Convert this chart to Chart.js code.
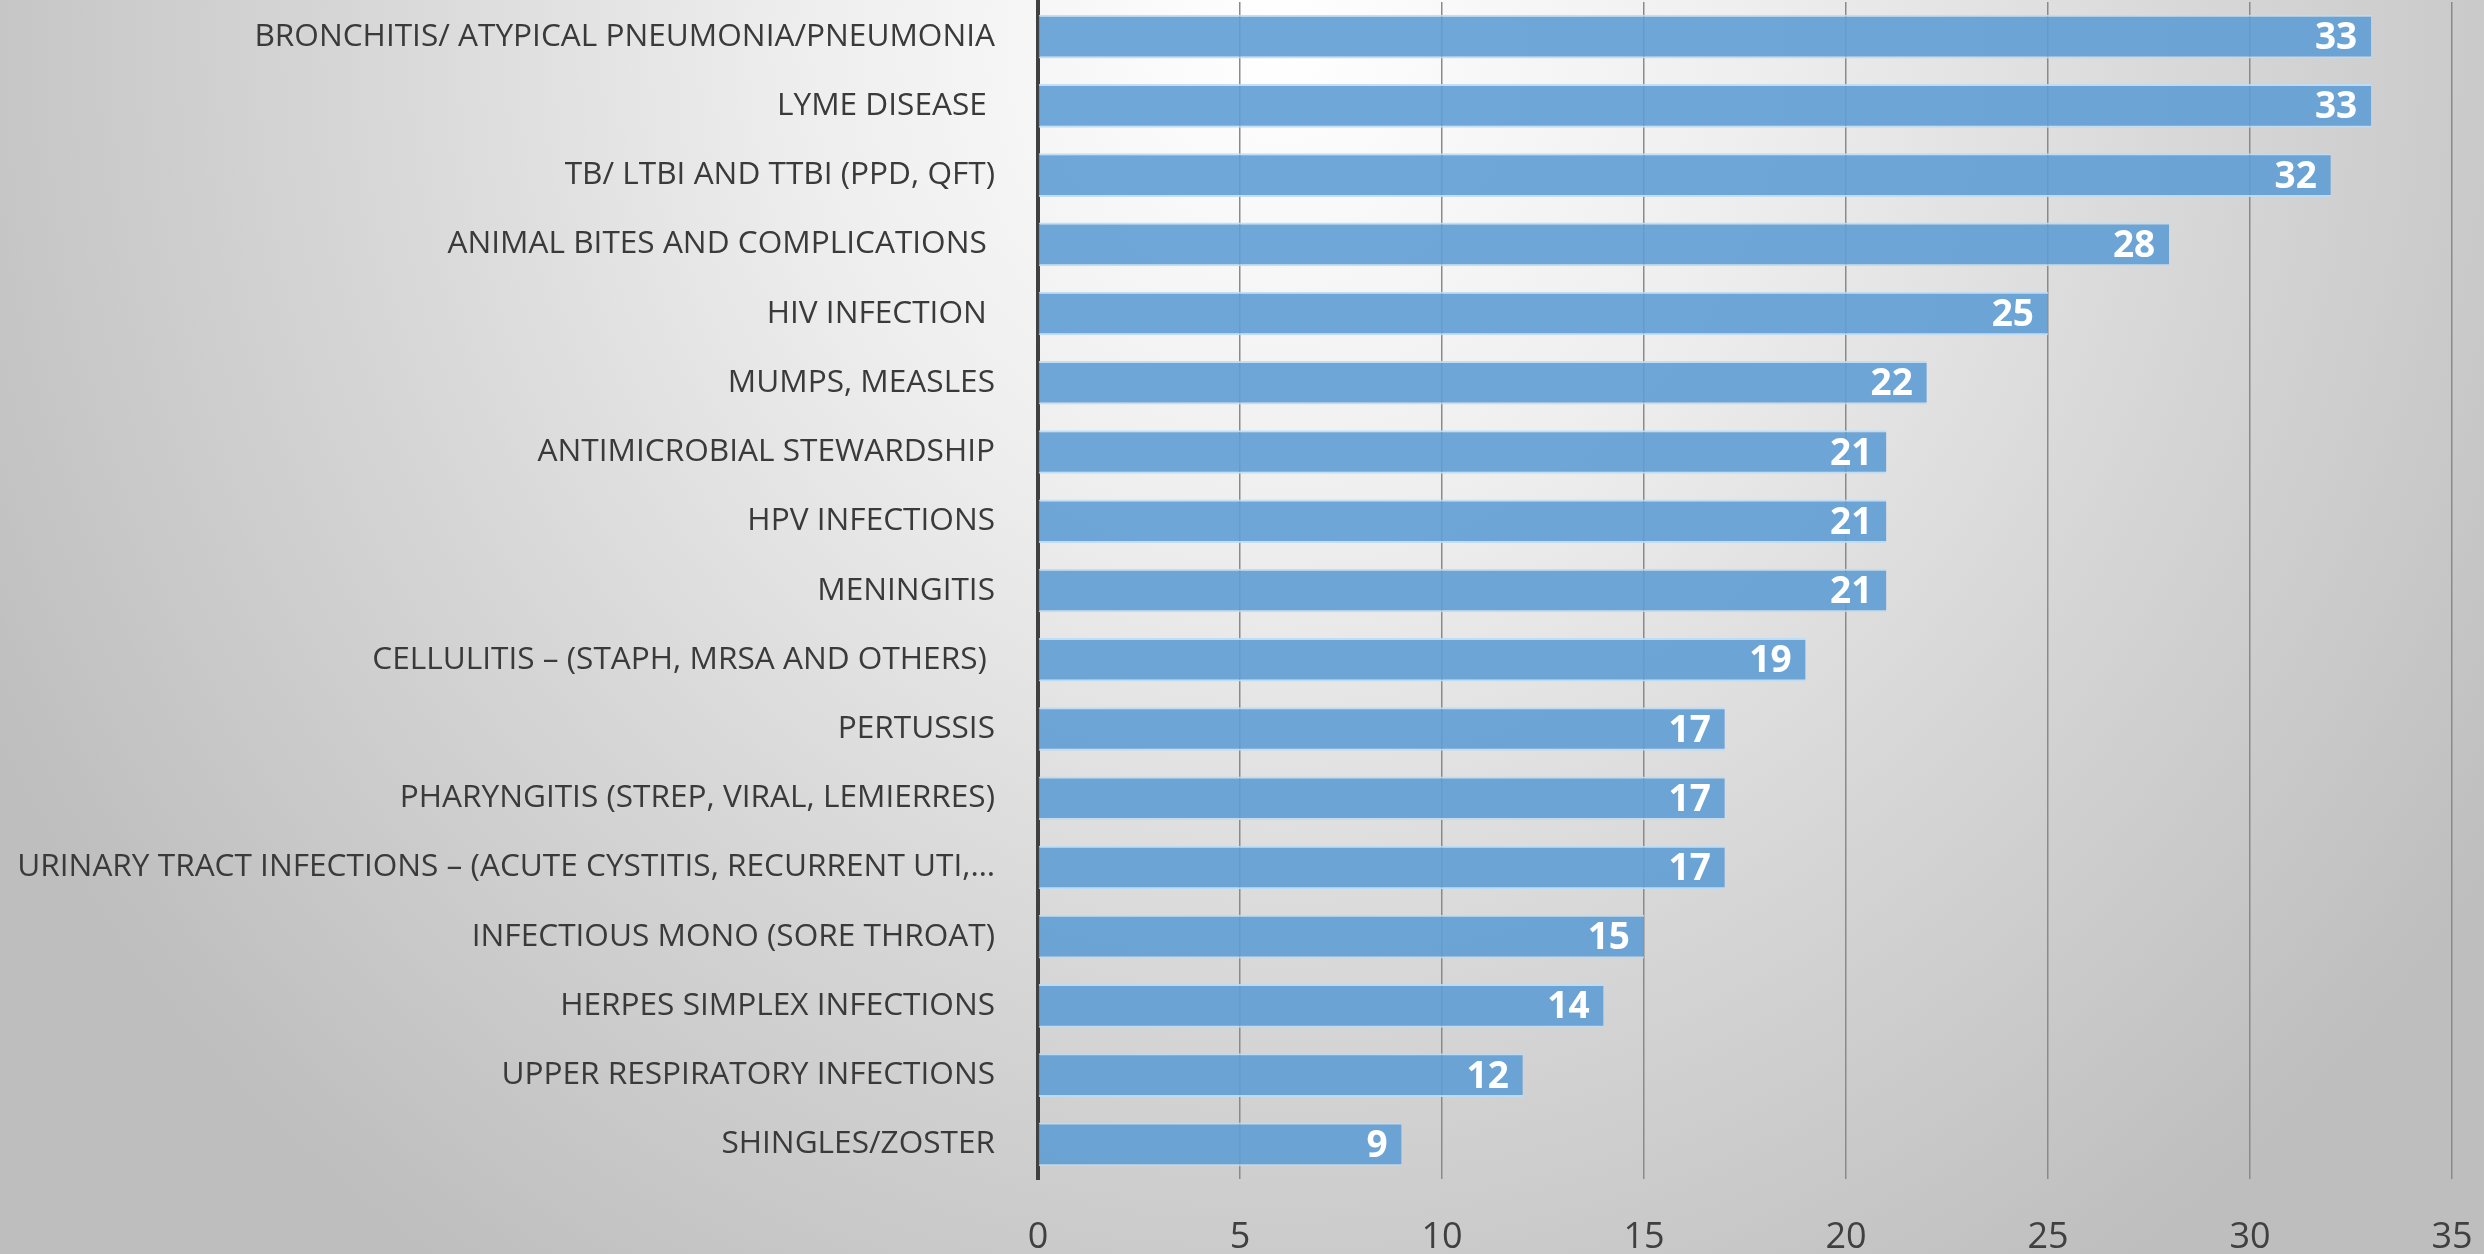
<!DOCTYPE html>
<html>
<head>
<meta charset="utf-8">
<script src="https://cdn.jsdelivr.net/npm/chart.js@4/dist/chart.umd.min.js"></script>
<style>
  html, body { margin: 0; padding: 0; }
  body {
    width: 2484px; height: 1254px; overflow: hidden;
    background: radial-gradient(ellipse 1450px 1500px at 1280px 40px, #ffffff 0%, #eeeeee 33%, #d6d6d6 65%, #bebebe 100%);
  }
  #wrap { position: absolute; left: 0; top: 0; width: 2484px; height: 1254px; }
</style>
</head>
<body>
<div id="wrap"><canvas id="c" width="2484" height="1254"></canvas></div>
<script>
const categories = [
  "BRONCHITIS/ ATYPICAL PNEUMONIA/PNEUMONIA",
  "LYME DISEASE ",
  "TB/ LTBI AND TTBI (PPD, QFT)",
  "ANIMAL BITES AND COMPLICATIONS ",
  "HIV INFECTION ",
  "MUMPS, MEASLES",
  "ANTIMICROBIAL STEWARDSHIP",
  "HPV INFECTIONS",
  "MENINGITIS",
  "CELLULITIS – (STAPH, MRSA AND OTHERS) ",
  "PERTUSSIS",
  "PHARYNGITIS (STREP, VIRAL, LEMIERRES)",
  "URINARY TRACT INFECTIONS – (ACUTE CYSTITIS, RECURRENT UTI,…",
  "INFECTIOUS MONO (SORE THROAT)",
  "HERPES SIMPLEX INFECTIONS",
  "UPPER RESPIRATORY INFECTIONS",
  "SHINGLES/ZOSTER"
];
const counts = [33, 33, 32, 28, 25, 22, 21, 21, 21, 19, 17, 17, 17, 15, 14, 12, 9];
const xTicks = [0, 5, 10, 15, 20, 25, 30, 35];

const valueLabels = {
  id: 'valueLabels',
  afterDatasetsDraw(chart) {
    const ctx = chart.ctx;
    const meta = chart.getDatasetMeta(0);
    ctx.save();
    ctx.font = 'bold 37px "Open Sans"';
    ctx.fillStyle = '#ffffff';
    ctx.textAlign = 'right';
    ctx.textBaseline = 'middle';
    meta.data.forEach((el, i) => {
      ctx.fillText(String(counts[i]), el.x - 14, el.y + 2);
    });
    ctx.restore();
  }
};

new Chart(document.getElementById('c'), {
  type: 'bar',
  data: {
    labels: categories,
    datasets: [{
      data: counts,
      backgroundColor: 'rgba(96,157,213,0.9)',
      borderColor: 'rgba(190,218,243,0.9)',
      borderWidth: { top: 2, bottom: 2, left: 0, right: 0 },
      borderSkipped: false,
      barPercentage: 0.63,
      categoryPercentage: 1.0
    }]
  },
  options: {
    indexAxis: 'y',
    responsive: false,
    animation: false,
    devicePixelRatio: 1,
    layout: { padding: { top: 2, right: 32, bottom: 0, left: 0 } },
    plugins: { legend: { display: false }, tooltip: { enabled: false } },
    scales: {
      x: {
        min: 0, max: 35,
        afterBuildTicks(scale) { scale.ticks = xTicks.map(v => ({ value: v })); },
        afterFit(scale) { scale.paddingLeft = 0; scale.paddingRight = 0; scale.height = 75; },
        grid: { color: '#8a8a8a', lineWidth: 1.5, drawTicks: false },
        border: { display: false },
        ticks: { color: '#404040', font: { family: 'Open Sans', size: 36 }, padding: 37 }
      },
      y: {
        afterFit(scale) { scale.width = 1038; scale.paddingTop = 0; scale.paddingBottom = 0; },
        grid: { display: false, drawTicks: false },
        border: { display: true, color: '#404040', width: 4 },
        ticks: { color: '#3a3a3a', font: { family: 'Open Sans', size: 31.6 }, padding: 43, autoSkip: false }
      }
    }
  },
  plugins: [valueLabels]
});
</script>
</body>
</html>
